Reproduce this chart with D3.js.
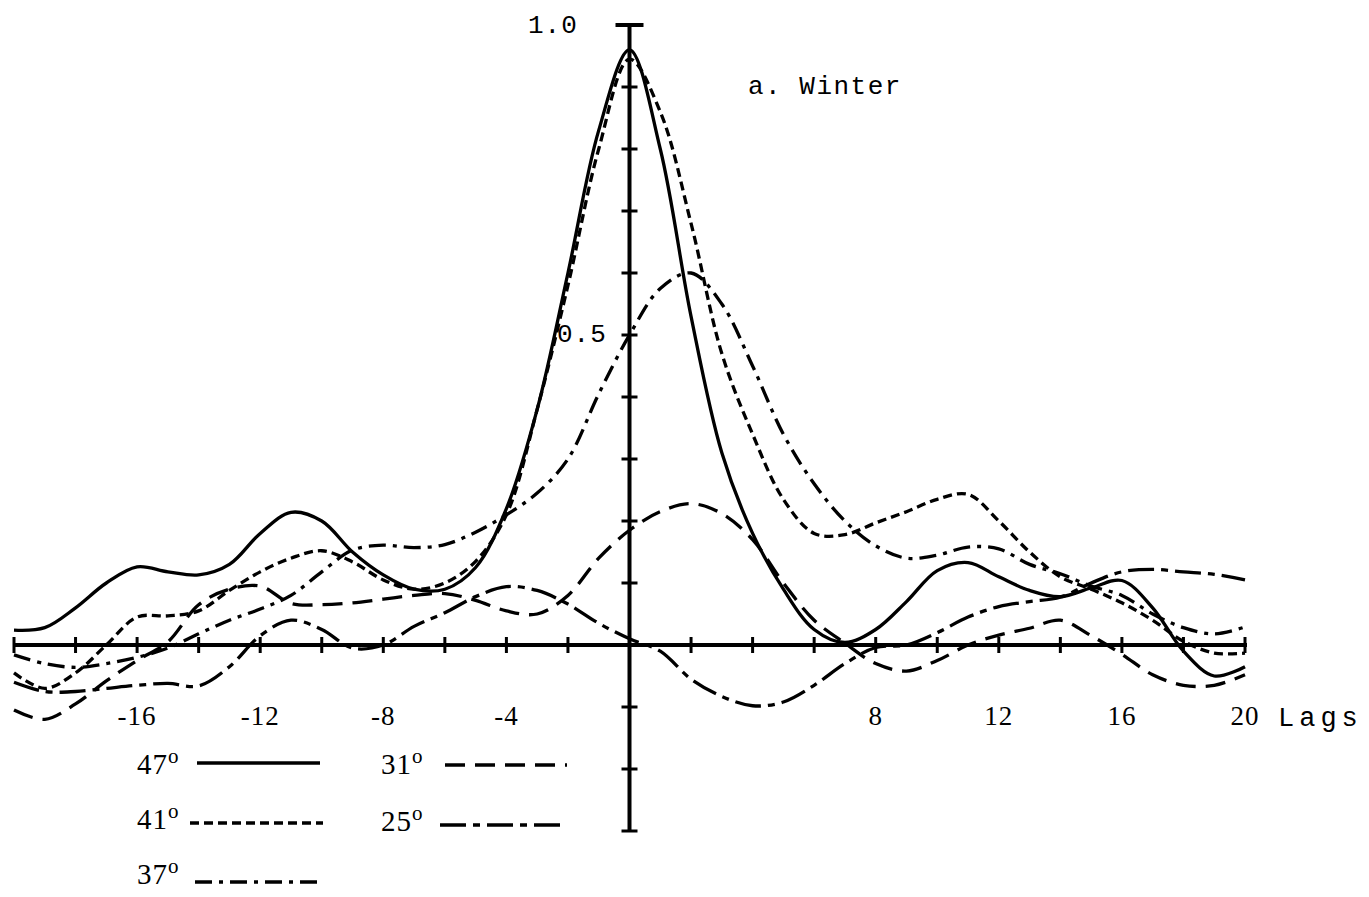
<!DOCTYPE html>
<html>
<head>
<meta charset="utf-8">
<script src="https://cdn.jsdelivr.net/npm/d3@7"></script>
<style>
  html, body { margin: 0; padding: 0; background: #fff; }
  svg { display: block; }
  .mono { font-family: "Liberation Mono", "DejaVu Sans Mono", monospace; }
  .serif { font-family: "Liberation Serif", "DejaVu Serif", serif; }
</style>
</head>
<body>
<svg id="chart" width="1369" height="897"></svg>
<script>
// lags -20..20
const lags = d3.range(-20, 21);

// autocorrelation per latitude
const lat47 = [0.024, 0.028, 0.06, 0.1, 0.126, 0.118, 0.113, 0.13, 0.18, 0.214, 0.2,
  0.15, 0.113, 0.09, 0.09, 0.125, 0.22, 0.38, 0.6, 0.83, 0.96,
  0.8, 0.53, 0.31, 0.18, 0.09, 0.025, 0.004, 0.025, 0.07, 0.12,
  0.133, 0.11, 0.088, 0.078, 0.092, 0.104, 0.06, -0.01, -0.05, -0.035];
const lat41 = [-0.045, -0.07, -0.045, 0.0, 0.045, 0.047, 0.055, 0.088, 0.118, 0.14, 0.152,
  0.134, 0.105, 0.09, 0.1, 0.135, 0.21, 0.38, 0.58, 0.8, 0.945,
  0.86, 0.68, 0.47, 0.34, 0.235, 0.18, 0.178, 0.197, 0.215, 0.235,
  0.243, 0.2, 0.15, 0.11, 0.09, 0.068, 0.04, 0.006, -0.013, -0.013];
const lat37 = [-0.016, -0.03, -0.036, -0.03, -0.02, -0.005, 0.018, 0.04, 0.058, 0.08, 0.118,
  0.153, 0.161, 0.157, 0.162, 0.182, 0.21, 0.245, 0.3, 0.405, 0.5,
  0.575, 0.6, 0.55, 0.45, 0.34, 0.26, 0.2, 0.16, 0.14, 0.145,
  0.158, 0.155, 0.13, 0.115, 0.095, 0.08, 0.05, 0.028, 0.018, 0.029];
const lat31 = [-0.105, -0.12, -0.095, -0.058, -0.025, 0.005, 0.065, 0.09, 0.095, 0.067, 0.065,
  0.068, 0.074, 0.08, 0.083, 0.072, 0.055, 0.05, 0.08, 0.14, 0.185,
  0.215, 0.228, 0.212, 0.17, 0.1, 0.04, 0.003, -0.03, -0.042, -0.025,
  0.0, 0.016, 0.027, 0.04, 0.015, -0.015, -0.048, -0.065, -0.065, -0.048];
const lat25 = [-0.06, -0.075, -0.075, -0.07, -0.065, -0.062, -0.066, -0.035, 0.015, 0.04, 0.025,
  -0.005, 0.0, 0.03, 0.052, 0.078, 0.094, 0.088, 0.066, 0.035, 0.01,
  -0.01, -0.055, -0.083, -0.098, -0.092, -0.065, -0.03, -0.004, 0.0, 0.02,
  0.045, 0.062, 0.07, 0.077, 0.1, 0.118, 0.122, 0.118, 0.114, 0.105];

const series = [
  { name: '47', values: lat47, dash: null },
  { name: '41', values: lat41, dash: '9,5' },
  { name: '37', values: lat37, dash: '17,7,4,7' },
  { name: '31', values: lat31, dash: '20,10' },
  { name: '25', values: lat25, dash: '26,7,7,7' }
];

const xTickLabels = [-16, -12, -8, -4, 8, 12, 16, 20];

const svg = d3.select('#chart');
const x = d3.scaleLinear().domain([-20, 20]).range([14, 1245]);
const y = d3.scaleLinear().domain([-0.3, 1.0]).range([831, 25]);

// axes
const axis = svg.append('g').attr('stroke', '#000').attr('stroke-width', 4);
axis.append('line')
  .attr('x1', x(-20)).attr('x2', x(20) + 2)
  .attr('y1', y(0)).attr('y2', y(0));
axis.append('line')
  .attr('x1', x(0)).attr('x2', x(0))
  .attr('y1', y(1.0)).attr('y2', y(-0.3));

// x ticks every 2 lags, crossing the axis
axis.selectAll('.xt')
  .data(d3.range(-20, 21, 2).filter(d => d !== 0))
  .enter().append('line')
  .attr('stroke-width', 3)
  .attr('x1', d => x(d)).attr('x2', d => x(d))
  .attr('y1', y(0) - 8).attr('y2', y(0) + 8);

// y ticks every 0.1
axis.selectAll('.yt')
  .data(d3.range(-3, 10).filter(d => d !== 0).map(d => d / 10))
  .enter().append('line')
  .attr('stroke-width', 3)
  .attr('x1', x(0) - 8).attr('x2', x(0) + 8)
  .attr('y1', d => y(d)).attr('y2', d => y(d));
// cap at 1.0
axis.append('line')
  .attr('x1', x(0) - 14).attr('x2', x(0) + 14)
  .attr('y1', y(1.0)).attr('y2', y(1.0));

// curves
const line = d3.line()
  .x((d, i) => x(lags[i]))
  .y(d => y(d))
  .curve(d3.curveCatmullRom.alpha(0.5));

svg.append('g').selectAll('path')
  .data(series)
  .enter().append('path')
  .attr('d', d => line(d.values))
  .attr('fill', 'none')
  .attr('stroke', '#000')
  .attr('stroke-width', 3.3)
  .attr('stroke-dasharray', d => d.dash);

// tick labels
svg.append('g').attr('class', 'serif')
  .selectAll('text')
  .data(xTickLabels)
  .enter().append('text')
  .attr('x', d => x(d))
  .attr('y', 725)
  .attr('text-anchor', 'middle')
  .attr('font-size', 27)
  .attr('letter-spacing', 1)
  .text(d => d < 0 ? '-' + Math.abs(d) : d);

svg.append('text').attr('class', 'mono')
  .attr('x', 1278).attr('y', 726)
  .attr('font-size', 27).attr('letter-spacing', 5)
  .text('Lags');

svg.append('text').attr('class', 'mono')
  .attr('x', 528).attr('y', 33)
  .attr('font-size', 26).attr('letter-spacing', 1)
  .text('1.0');
svg.append('text').attr('class', 'mono')
  .attr('x', 557).attr('y', 342)
  .attr('font-size', 26).attr('letter-spacing', 1)
  .text('0.5');
svg.append('text').attr('class', 'mono')
  .attr('x', 748).attr('y', 94)
  .attr('font-size', 26).attr('letter-spacing', 1.5)
  .text('a. Winter');

// legend
const legendPos = [
  { tx: 137, ty: 774, lx1: 197, lx2: 320, ly: 763 },
  { tx: 137, ty: 829, lx1: 190, lx2: 323, ly: 823 },
  { tx: 137, ty: 884, lx1: 195, lx2: 320, ly: 882 },
  { tx: 381, ty: 774, lx1: 445, lx2: 567, ly: 765 },
  { tx: 381, ty: 831, lx1: 440, lx2: 567, ly: 825 }
];
const legend = svg.append('g');
series.forEach((s, i) => {
  const p = legendPos[i];
  const t = legend.append('text').attr('class', 'serif')
    .attr('x', p.tx).attr('y', p.ty)
    .attr('font-size', 29).attr('letter-spacing', 1);
  t.append('tspan').text(s.name);
  t.append('tspan').attr('dy', -11).attr('font-size', 21).text('o');
  legend.append('line')
    .attr('x1', p.lx1).attr('x2', p.lx2)
    .attr('y1', p.ly).attr('y2', p.ly)
    .attr('stroke', '#000').attr('stroke-width', 3.3)
    .attr('stroke-dasharray', s.dash);
});
</script>
</body>
</html>
